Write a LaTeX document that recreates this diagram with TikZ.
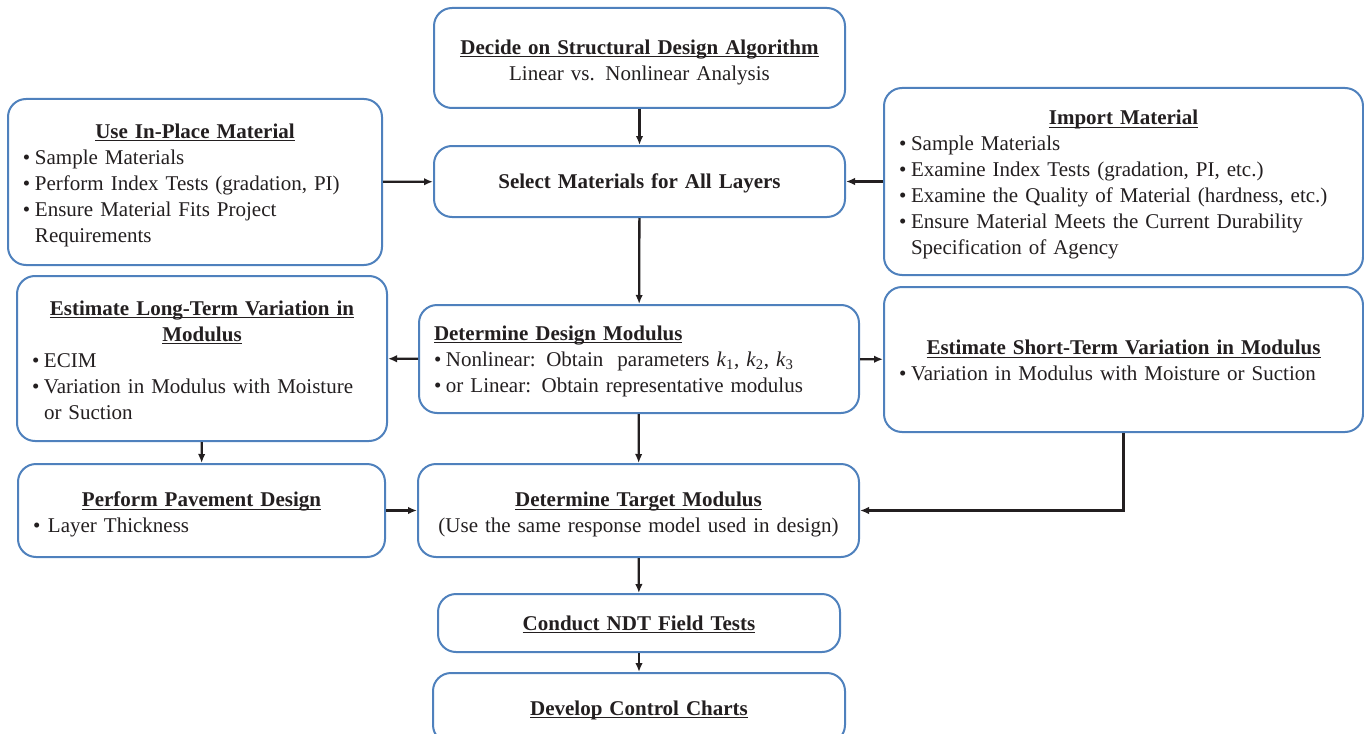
\documentclass[tikz,border=0pt]{standalone}
\usepackage{fontspec}
\setmainfont{Liberation Serif}[WordSpace=0.8]
\usetikzlibrary{arrows.meta,positioning}
\definecolor{boxblue}{RGB}{79,129,189}
\definecolor{inkgray}{RGB}{35,31,32}
\newcommand{\hd}[1]{\leavevmode\setbox0\hbox{\textbf{#1}}\rlap{\rule[-3pt]{\wd0}{1pt}}\box0}
\newcommand{\itm}[1]{\par\noindent\hangindent=12pt\hangafter=1\makebox[12pt][l]{\textbullet}#1}
\newcommand{\dn}[1][8pt]{\par\vspace{-#1}}
\tikzset{
  box/.style={draw=boxblue, line width=2pt, rounded corners=18pt, fill=white,
    inner xsep=15pt, inner ysep=0pt, text=inkgray, font=\fontsize{21}{26}\selectfont},
  trans/.style={-{Latex[length=9pt,width=7.5pt]}, line width=2.3pt, draw=inkgray},
}
\begin{document}
\begin{tikzpicture}[x=1pt, y=-1pt]
  \useasboundingbox (0,0) rectangle (1364,733);
  % middle column
  \node (decide) at (639.5,58) [box, text width=381pt, minimum height=100pt]
    {\centering\hd{Decide on Structural Design Algorithm}\\ Linear vs. Nonlinear Analysis\dn};
  \node (select) at (639.5,181.5) [box, text width=381pt, minimum height=71pt]
    {\centering\textbf{Select Materials for All Layers}\dn[17pt]};
  \node (ddm) at (639,359) [box, text width=410pt, minimum height=108pt]
    {\raggedright\hd{Determine Design Modulus}
     \itm{Nonlinear: Obtain\ \ parameters \textit{k}\textsubscript{1}, \textit{k}\textsubscript{2}, \textit{k}\textsubscript{3}}
     \itm{or Linear: Obtain representative modulus}\dn[4pt]};
  \node (target) at (638.5,510.5) [box, text width=411pt, minimum height=93pt]
    {\centering\hd{Determine Target Modulus}\\ (Use the same response model used in design)\dn};
  \node (ndt) at (639,623) [box, text width=372pt, minimum height=58pt]
    {\centering\hd{Conduct NDT Field Tests}\dn[15pt]};
  \node (charts) at (639,708) [box, text width=382pt, minimum height=70pt]
    {\centering\hd{Develop Control Charts}\dn[12pt]};
  % left column
  \node (inplace) at (195,182) [box, text width=344pt, minimum height=166pt]
    {\centering\hd{Use In-Place Material}\par\raggedright
     \itm{Sample Materials}
     \itm{Perform Index Tests (gradation, PI)}
     \itm{Ensure Material Fits Project\newline Requirements}\dn[6pt]};
  \node (longterm) at (202,358.5) [box, text width=340pt, minimum height=165pt]
    {\centering\hd{Estimate Long-Term Variation in}\\ \hd{Modulus}\par\raggedright
     \itm{ECIM}
     \itm{Variation in Modulus with Moisture\newline or Suction}\dn[3pt]};
  \node (pave) at (201.5,510.5) [box, text width=337pt, minimum height=93pt]
    {\centering\hd{Perform Pavement Design}\par\raggedright
     \itm{\hspace{3pt}Layer Thickness}\dn};
  % right column
  \node (import) at (1123.5,181.5) [box, text width=449pt, minimum height=187pt]
    {\centering\hd{Import Material}\par\raggedright
     \itm{Sample Materials}
     \itm{Examine Index Tests (gradation, PI, etc.)}
     \itm{Examine the Quality of Material (hardness, etc.)}
     \itm{Ensure Material Meets the Current Durability\newline Specification of Agency}\dn[6pt]};
  \node (shortterm) at (1123.5,359.5) [box, text width=449pt, minimum height=145pt]
    {\centering\hd{Estimate Short-Term Variation in Modulus}\par\raggedright
     \itm{Variation in Modulus with Moisture or Suction}\dn[2pt]};

  \draw [trans] (decide) -- (select);
  \draw [trans] (inplace) -- (select);
  \draw [trans] (import) -- (select);
  \draw [trans] (select) -- (ddm);
  \draw [trans] (ddm) -- (longterm);
  \draw [trans] (ddm) -- (shortterm);
  \draw [trans] (longterm) -- (pave);
  \draw [trans] (ddm) -- (target);
  \draw [trans] (pave) -- (target);
  \draw [trans] (shortterm.south) |- (target.east);
  \draw [trans] (target) -- (ndt);
  \draw [trans] (ndt) -- (charts);
\end{tikzpicture}
\end{document}
